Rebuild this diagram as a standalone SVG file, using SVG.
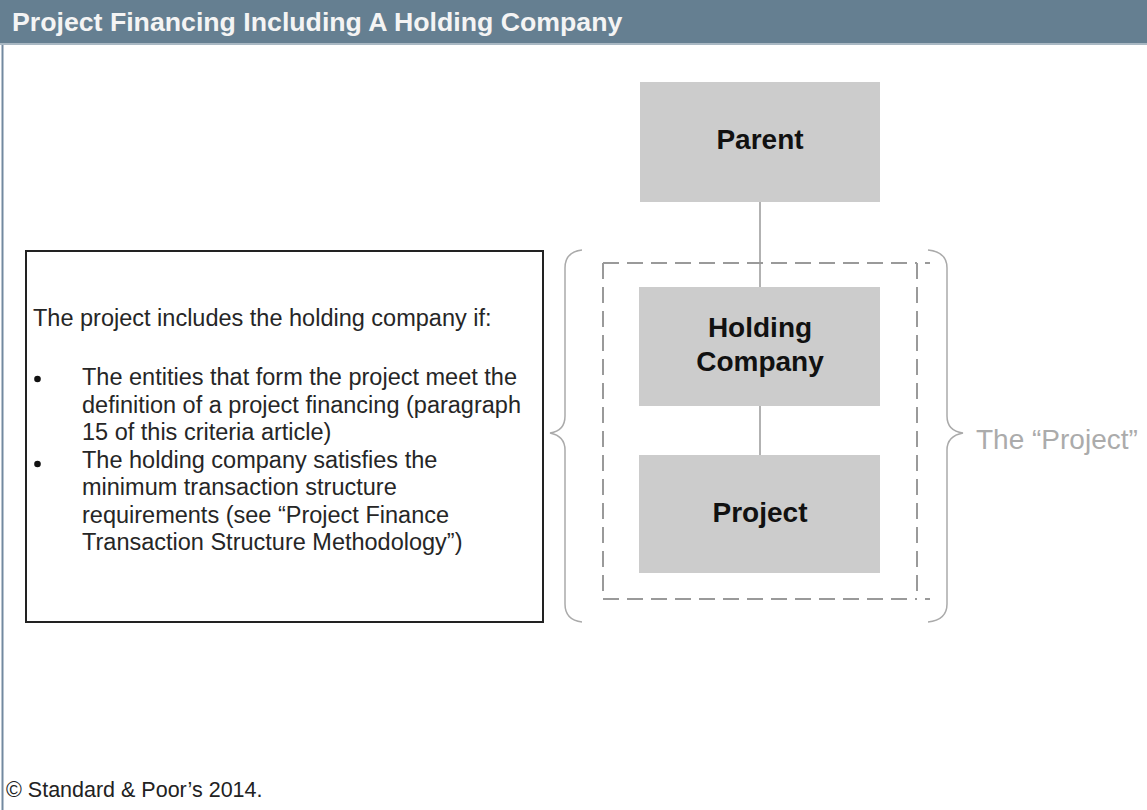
<svg xmlns="http://www.w3.org/2000/svg" width="1147" height="810" viewBox="0 0 1147 810">
<style>
.node rect{fill:#cccccc;}
.lbl{font-family:"Liberation Sans",Arial,sans-serif;font-weight:bold;font-size:28px;fill:#111;text-anchor:middle;}
.body{font-family:"Liberation Sans",Arial,sans-serif;font-size:23.5px;fill:#262626;}
.conn{stroke:#999;stroke-width:1.5;fill:none;}
.dash{stroke:#9a9a9a;stroke-width:2;stroke-dasharray:16 8;fill:none;}
.tick{stroke:#9a9a9a;stroke-width:2;fill:none;}
.brace{stroke:#aaaaaa;stroke-width:1.5;fill:none;}
</style>
<rect x="0" y="0" width="1147" height="810" fill="#ffffff"/>
<g id="header">
<rect x="0" y="0" width="1147" height="43" fill="#657f91"/>
<rect x="0" y="43" width="1147" height="2" fill="#a9b8c3"/>
<text x="12" y="31" font-family="'Liberation Sans',Arial,sans-serif" font-weight="bold" font-size="26.7" fill="#f4f4f4">Project Financing Including A Holding Company</text>
</g>
<line x1="2.5" y1="45" x2="2.5" y2="810" stroke="#7289a0" stroke-width="2"/>

<g id="grouping">
<path class="dash" d="M603,263 H917 M603,599 H917 M603,263 V599 M917,263 V599"/>
<path class="tick" d="M925,263 H930 M925,599 H930"/>
<path class="brace" d="M582,250 Q565,252 565,268 L565,416 Q565,431 550,433 Q565,436 565,450 L565,604 Q565,620 582,622"/>
<path class="brace" d="M928,250 Q947,252 947,268 L947,416 Q947,431 963,433 Q947,436 947,450 L947,604 Q947,620 928,622"/>
<text x="976" y="449" font-family="'Liberation Sans',Arial,sans-serif" font-size="28" fill="#ababab">The “Project”</text>
</g>

<g id="connectors">
<line class="conn" x1="760" y1="202" x2="760" y2="287"/>
<line class="conn" x1="760" y1="406" x2="760" y2="455"/>
</g>

<g id="parent" class="node">
<rect x="640" y="82" width="240" height="120"/>
<text class="lbl" x="760" y="149">Parent</text>
</g>
<g id="holding" class="node">
<rect x="639" y="287" width="241" height="119"/>
<text class="lbl" x="760" y="337">Holding</text>
<text class="lbl" x="760" y="371">Company</text>
</g>
<g id="project" class="node">
<rect x="639" y="455" width="241" height="118"/>
<text class="lbl" x="760" y="522">Project</text>
</g>

<g id="note">
<rect x="26" y="251" width="517" height="371" fill="#fff" stroke="#222" stroke-width="2"/>
<text class="body" x="33" y="326">The project includes the holding company if:</text>
<circle cx="37.5" cy="379" r="3.3" fill="#111"/>
<circle cx="37.5" cy="464" r="3.3" fill="#111"/>
<text class="body" x="82" y="385">The entities that form the project meet the</text>
<text class="body" x="82" y="412.5">definition of a project financing (paragraph</text>
<text class="body" x="82" y="440">15 of this criteria article)</text>
<text class="body" x="82" y="467.5">The holding company satisfies the</text>
<text class="body" x="82" y="495">minimum transaction structure</text>
<text class="body" x="82" y="522.5">requirements (see “Project Finance</text>
<text class="body" x="82" y="550">Transaction Structure Methodology”)</text>
</g>

<text x="6" y="797" font-family="'Liberation Sans',Arial,sans-serif" font-size="21.5" fill="#222">© Standard &amp; Poor’s 2014.</text>
</svg>
